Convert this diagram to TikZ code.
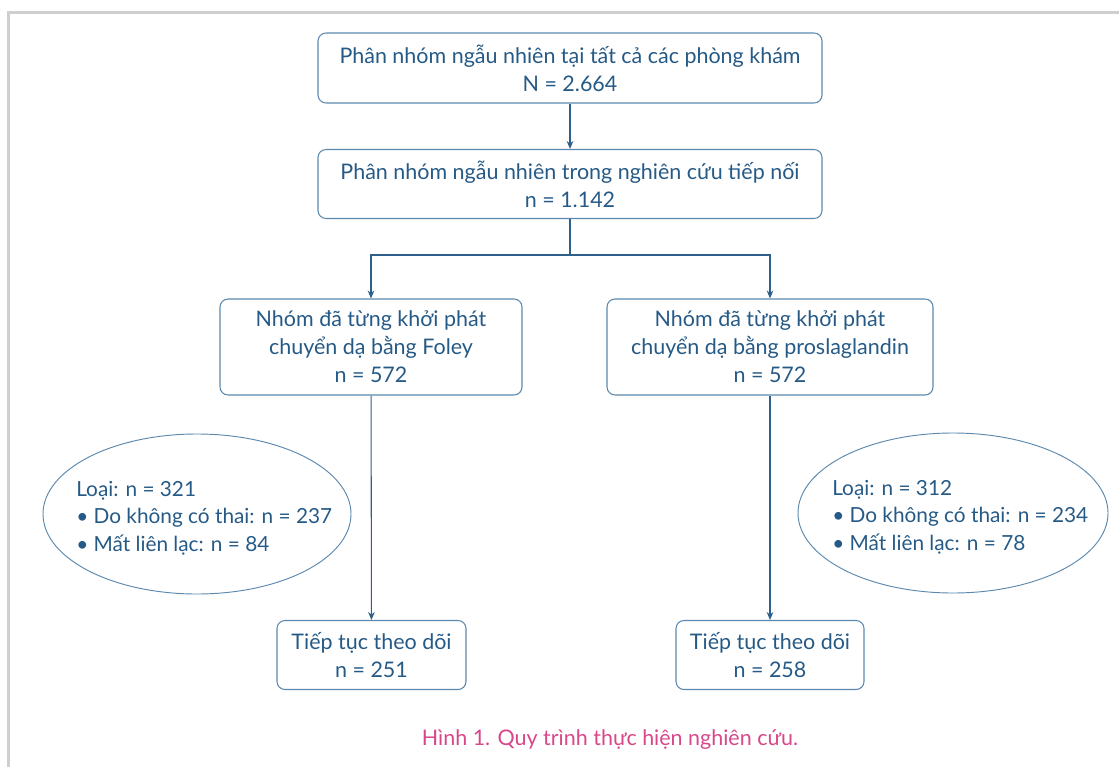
\documentclass[tikz,border=0pt]{standalone}
\usepackage{fontspec}
\setmainfont{Lato}
\usetikzlibrary{arrows.meta,shapes.geometric}
\definecolor{boxline}{HTML}{5A88AE}
\definecolor{txt}{HTML}{265A86}
\definecolor{arr}{HTML}{2E5F8A}
\definecolor{cap}{HTML}{D8478A}
\definecolor{frame}{HTML}{CFCFCF}
\begin{document}
\begin{tikzpicture}[x=0.75pt,y=-0.75pt,
  every node/.style={font=\fontsize{16.1}{21}\selectfont, text=txt},
  flowbox/.style={draw=boxline, line width=0.8pt, rounded corners=6pt, align=center, inner sep=0pt},
  oval/.style={draw=boxline, line width=0.7pt, ellipse, inner sep=0pt},
  ovaltext/.style={align=left, anchor=west, inner sep=0pt, font=\fontsize{15.6}{20.6}\selectfont},
  conn/.style={draw=arr, line width=0.8pt},
  arrowc/.style={conn, -{Stealth[length=6pt,width=5pt]}}]
\useasboundingbox (0,0) rectangle (1119,767);
% frame
\draw[frame, line width=2.4pt] (8.5,767) -- (8.5,12.5) -- (1119,12.5);
% nodes
\node[flowbox, minimum width=504*0.75pt, minimum height=70*0.75pt] (top) at (570,68) {Phân nhóm ngẫu nhiên tại tất cả các phòng khám\\N = 2.664};
\node[flowbox, minimum width=504*0.75pt, minimum height=69*0.75pt] (sec) at (570,184) {Phân nhóm ngẫu nhiên trong nghiên cứu tiếp nối\\n = 1.142};
\node[flowbox, minimum width=302*0.75pt, minimum height=96*0.75pt] (left) at (371,347) {Nhóm đã từng khởi phát\\chuyển dạ bằng Foley\\n = 572};
\node[flowbox, minimum width=326*0.75pt, minimum height=96*0.75pt] (right) at (770,347) {Nhóm đã từng khởi phát\\chuyển dạ bằng proslaglandin\\n = 572};
\node[flowbox, minimum width=189*0.75pt, minimum height=69*0.75pt] (bl) at (371.5,655) {Tiếp tục theo dõi\\n = 251};
\node[flowbox, minimum width=188*0.75pt, minimum height=69*0.75pt] (br) at (770,655) {Tiếp tục theo dõi\\n = 258};
\node[oval, minimum width=308*0.75pt, minimum height=160*0.75pt] (el) at (197,514) {};
\node[oval, minimum width=310*0.75pt, minimum height=160*0.75pt] (er) at (953,513) {};
\node[ovaltext] (elt) at (76,518) {Loại: n = 321\\• Do không có thai: n = 237\\• Mất liên lạc: n = 84};
\node[ovaltext] (ert) at (832,517) {Loại: n = 312\\• Do không có thai: n = 234\\• Mất liên lạc: n = 78};
\node[text=cap] (caption) at (610,740) {Hình 1. Quy trình thực hiện nghiên cứu.};
% connectors
\coordinate (split) at (570,255);
\draw[arrowc] (top) -- (sec);
\draw[conn] (sec) -- (split);
\draw[arrowc] (split) -| (left.north);
\draw[arrowc] (split) -| (right.north);
\draw[arrowc] (left) -- (bl);
\draw[arrowc] (right) -- (br);
\end{tikzpicture}
\end{document}
